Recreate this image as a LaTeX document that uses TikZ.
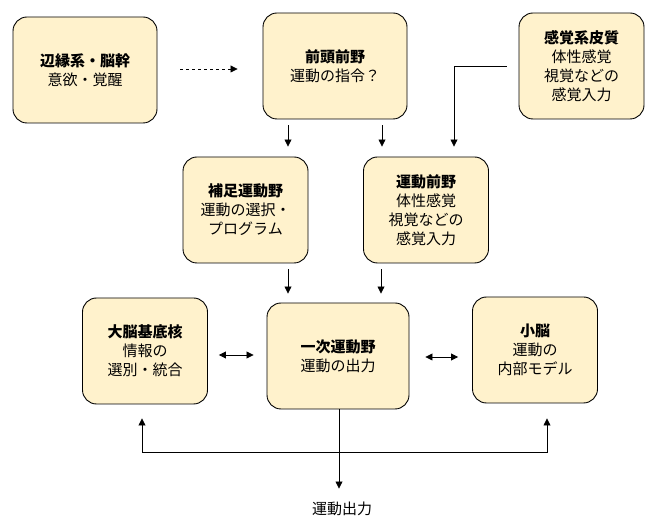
\documentclass[tikz,border=0pt]{standalone}
\usepackage{fontspec}
\setmainfont{Noto Sans CJK JP}
\usetikzlibrary{arrows.meta}
\definecolor{boxfill}{HTML}{FFF2CC}
\tikzset{
  % Specifications for style of nodes:
  base/.style = {
    rectangle,
    rounded corners=14pt,
    draw=black,
    line width=0.9pt,
    fill=boxfill,
    align=center,
    minimum height=106pt,
    font=\fontsize{15}{19}\selectfont
  },
  area/.style = {
    base,
    minimum width=144pt
  },
  areasmall/.style = {
    base,
    minimum width=125pt
  },
  % Specifications for style of connectors:
  arr/.style = {
    -{Triangle[length=7pt,width=7pt]},
    line width=0.8pt
  },
  arrs/.style = {
    {Triangle[length=7pt,width=7pt]}-{Triangle[length=7pt,width=7pt]},
    line width=0.8pt
  },
}

\begin{document}
\begin{tikzpicture}[x=1pt, y=-1pt]
    \useasboundingbox (0,0) rectangle (670,526);
    % Specification of nodes (position, etc.)
    \node[area]      (limbic)  at (85,70)    {\textbf{辺縁系・脳幹}\\意欲・覚醒};
    \node[area]      (pfc)     at (335,66)   {\textbf{前頭前野}\\運動の指令？};
    \node[areasmall] (sensory) at (581.5,66) {\textbf{感覚系皮質}\\体性感覚\\視覚などの\\感覚入力};
    \node[areasmall] (sma)     at (245.5,210) {\textbf{補足運動野}\\運動の選択・\\プログラム};
    \node[areasmall] (pm)      at (426,210)  {\textbf{運動前野}\\体性感覚\\視覚などの\\感覚入力};
    \node[areasmall] (bg)      at (145,351)  {\textbf{大脳基底核}\\情報の\\選別・統合};
    \node[area, minimum width=142pt] (m1) at (338,356) {\textbf{一次運動野}\\運動の出力};
    \node[areasmall] (cb)      at (535,350)  {\textbf{小脳}\\運動の\\内部モデル};
    \node[font=\fontsize{15}{19}\selectfont] (out) at (342,509) {運動出力};
    % Specification of connectors
    \draw[arr, dashed, shorten <=23pt, shorten >=25pt] (limbic.east |- 0,69) -- (pfc.west |- 0,69);
    \draw[arr, shorten <=6pt, shorten >=10pt] ([xshift=-47pt]pfc.south) -- ([xshift=-47pt]pfc.south |- sma.north);
    \draw[arr, shorten <=6pt, shorten >=10pt] ([xshift=47pt]pfc.south) -- ([xshift=47pt]pfc.south |- pm.north);
    \draw[arr, shorten >=10pt] ([xshift=-12pt]sensory.west) -| ([xshift=28pt]pm.north);
    \draw[arr, shorten <=6pt, shorten >=9pt] ([xshift=-50pt]m1.north |- sma.south) -- ([xshift=-50pt]m1.north);
    \draw[arr, shorten <=6pt, shorten >=9pt] ([xshift=43pt]m1.north |- pm.south) -- ([xshift=43pt]m1.north);
    \draw[arrs, shorten <=11pt, shorten >=13pt] (bg.east |- 0,355) -- (m1.west |- 0,355);
    \draw[arrs, shorten <=16pt, shorten >=14pt] (m1.east |- 0,357) -- (cb.west |- 0,357);
    \draw[arr, shorten >=10pt] ([xshift=1pt]m1.south) -- ([xshift=1pt]m1.south |- out.north);
    \draw[arrs, shorten <=14pt, shorten >=15pt] ([xshift=-3pt]bg.south) -- ([xshift=-3pt]bg.south |- 0,452) -| ([xshift=12pt]cb.south);
\end{tikzpicture}
\end{document}
